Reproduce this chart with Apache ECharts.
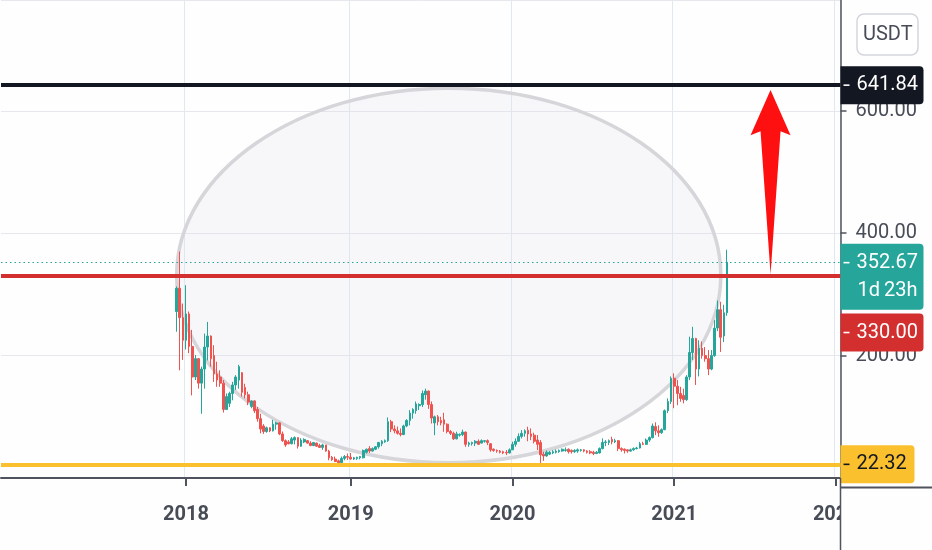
<!DOCTYPE html>
<html>
<head>
<meta charset="utf-8">
<script src="https://cdn.jsdelivr.net/npm/echarts@6/dist/echarts.min.js"></script>
<style>
html,body{margin:0;padding:0;background:#fefefe;}
#chart{width:932px;height:550px;}
</style>
</head>
<body>
<div id="chart"></div>
<script>
// ---------- data ----------
const firstWeek = '2017-12-11';        // first weekly candle
const weeksBefore = 56;                // empty weeks shown left of the first candle
const weeksAfter = 36;                 // empty future weeks right of the last candle
const yearLabels = ['2018', '2019', '2020', '2021', '2022'];

const opens = [
  272,310,262,225,268,215,165,195,155,178,
  214,232,200,170,165,155,112,122,138,152,
  160,172,148,136,117,126,112,97,85,76,
  82,77,88,90,72,61,59,56,62,66,
  52,59,61,57,53,57,53,50,54,44,
  34,31,28,25,32,35,34,31,32,33,
  33,42,48,44,47,51,56,59,61,92,
  80,77,73,71,85,94,106,110,118,120,
  136,142,120,90,100,94,95,88,76,73,
  64,70,71,75,55,56,57,60,57,60,
  61,56,47,45,44,43,42,41,46,55,
  60,68,73,78,72,70,62,58,39,36,
  39,41,42,43,44,45,47,45,43,44,
  45,46,44,43,42,40,41,48,58,58,
  63,59,61,48,47,46,44,46,48,49,
  56,55,62,66,84,77,74,79,110,125,
  163,150,138,135,128,165,205,228,178,212,
  200,195,178,200,245,275,232,270
];
const closes = [
  310,262,225,268,215,165,195,155,178,214,
  232,195,170,160,155,112,133,138,152,165,
  182,140,136,124,126,110,97,80,76,82,
  77,88,90,72,61,54,56,64,66,52,
  62,63,57,53,58,52,50,54,44,33,
  30,27,25,32,35,34,31,33,34,35,
  45,47,44,48,51,58,60,61,92,80,
  77,73,71,85,94,106,112,121,120,138,
  142,120,98,100,92,90,88,76,73,64,
  72,71,75,55,57,58,60,55,61,61,
  58,46,45,44,42,41,41,46,55,60,
  68,73,77,72,68,60,55,38,36,42,
  42,43,44,45,47,46,43,43,45,46,
  46,44,42,41,40,42,48,58,59,61,
  59,61,48,46,45,44,46,48,49,56,
  55,62,66,85,77,74,79,110,125,163,
  150,138,130,128,165,205,228,178,212,200,
  195,178,200,245,275,230,270,352.67
];
const lows = [
  239,176,193,210,204,135,160,146,105,146,
  192,182,157,149,149,107,111,116,127,144,
  146,133,130,119,114,106,92,73,72,74,
  75,76,79,70,59,51,55,55,55,48,
  51,57,56,52,52,51,49,46,43,29,
  28,26,22.4,24.5,29,29.5,30,29.5,29.5,30.5,
  32,40,41,43,45.5,48,52,57.5,59,75,
  73,71,68,70,83,86,97,105,111,116,
  128,113,89,70,86,86,75.5,72.9,70.2,62,
  63,67.5,68.4,51,51.1,53,52.2,53.8,56.5,57.6,
  53.8,42.9,42.9,41.2,40.1,39,37.5,40.1,45.7,51.1,
  59.3,64.7,67.5,60,62,56.5,45.7,23.6,28,34.7,
  37.4,39,40,41.2,42.9,42.9,40,40,41,41.2,
  43,42,40,39,37.4,39,40,46.7,52,53.8,
  55,57,44,42.9,40.1,41.2,42.9,44.5,46.7,48.3,
  53.7,54,59,64.6,70,67.4,72,78,106,121,
  114,119,124.6,122,126,160,193,152,166,195,
  190,168,176,198,240,206,222,265
];
const highs = [
  313,370,285,315,272,242,201,196,182,236,
  255,233,217,190,176,160,138,141,157,168,
  185,173,154,141,127,127,116,105,88,84,
  83,95,92,91,76,63,62,67,68,66,
  65,65,62,60,59,58,56,56,54,46,
  36,35,30,35,37.5,40,41,34.5,34.7,36,
  46.5,48,52,50,52,59,62,63,99,95,
  86,84,81,87,96,111,114,125,122,143,
  146,143,125,102,103,100,106.6,89.2,78.3,75.6,
  75.6,73,79,76,59.3,59.3,62,63.1,63.1,62,
  63,57,48.4,46.7,45.7,44.6,45.7,48.4,59.3,64.7,
  72.9,78.3,79.4,83.8,81.1,74,70.2,62,43,45,
  44,45.6,46.7,46.7,48.3,50,48.3,46.7,47,48.3,
  47.5,47,45.5,45.6,44.5,44,50,64.7,62,63,
  67.4,64,62,50,48.3,46.7,48,50,51,59,
  59.2,64.6,68,89,91,86,81,112,130,166,
  171,160,149,146,168,231,247,229,225,223,
  214,209,209,258,290,288,283,373
];

// horizontal levels drawn on the chart
const resistance = 641.84;
const breakout = 330.00;
const support = 22.32;
const lastPrice = 352.67;
const countdown = '1d 23h';
const quoteAsset = 'USDT';

// annotations (in data units)
const ellipseFromWeek = '2017-12-11';
const ellipseToWeek = '2021-04-19';
const ellipseLow = 25;
const ellipseHigh = 637;
const arrowWeek = '2021-08-09';
const arrowFrom = 333;
const arrowHeadBase = 560;
const arrowTo = 634;

// ---------- helpers ----------
function addWeeks(iso, n) {
  const d = new Date(iso + 'T00:00:00Z');
  d.setUTCDate(d.getUTCDate() + 7 * n);
  return d.toISOString().slice(0, 10);
}
const FONT = 'Roboto';
const FS = 20;
const XFS = 20;

const categories = [];
for (let k = -weeksBefore; k < opens.length + weeksAfter; k++) categories.push(addWeeks(firstWeek, k));
const candles = opens.map((o, i) => [addWeeks(firstWeek, i), o, closes[i], lows[i], highs[i]]);

function isYearStart(index, value) {
  if (index === 0) return false;
  const y = value.slice(0, 4);
  return y !== categories[index - 1].slice(0, 4) && yearLabels.indexOf(y) >= 0;
}

const AXIS = '#4f535d';
const TXT = '#484c57';

function box(bg, fg, w, extra) {
  return Object.assign({
    show: true, position: 'end', distance: 0, align: 'left',
    fontFamily: FONT, fontSize: FS, color: fg, width: w, overflow: 'none',
    backgroundColor: bg, padding: [8, 0, 8, 3], borderRadius: [0, 4, 4, 0],
    lineHeight: 22,
    rich: {
      t: {width: 6, height: 1.6, backgroundColor: fg, verticalAlign: 'middle'},
      g: {width: 7, height: 2}
    }
  }, extra || {});
}

const chart = echarts.init(document.getElementById('chart'), null, {renderer: 'canvas'});
chart.setOption({
  animation: false,
  backgroundColor: '#fefefe',
  textStyle: {fontFamily: FONT},
  title: {
    text: quoteAsset, left: 857, top: 14,
    padding: [10, 6], backgroundColor: '#ffffff',
    borderColor: '#d4d6dd', borderWidth: 1.5, borderRadius: 7,
    textStyle: {fontFamily: FONT, fontSize: FS, fontWeight: 'normal', color: TXT, lineHeight: 21}
  },
  grid: {left: 1, right: 91.5, top: 0, bottom: 72, containLabel: false},
  xAxis: {
    type: 'category', data: categories, boundaryGap: true, offset: 9.5,
    axisLine: {show: true, lineStyle: {color: AXIS, width: 2}},
    axisTick: {show: true, interval: isYearStart, alignWithLabel: true, length: 8, lineStyle: {color: AXIS, width: 2}},
    axisLabel: {
      interval: isYearStart, formatter: v => v.slice(0, 4), margin: 17,
      color: TXT, fontFamily: FONT, fontSize: XFS, fontWeight: 'bold'
    },
    splitLine: {show: true, interval: isYearStart, lineStyle: {color: '#e1e9f0', width: 1}}
  },
  yAxis: {
    type: 'value', position: 'right', min: 0, max: 781, interval: 200,
    axisLine: {show: true, lineStyle: {color: AXIS, width: 1.5}},
    axisTick: {show: true, length: 6, lineStyle: {color: AXIS, width: 1.5}},
    axisLabel: {
      formatter: v => v.toFixed(2), margin: 15, showMaxLabel: false,
      color: TXT, fontFamily: FONT, fontSize: FS
    },
    splitLine: {show: true, lineStyle: {color: '#e6e8ee', width: 1}}
  },
  series: [{
    type: 'candlestick', name: 'weekly',
    data: candles, encode: {x: 0, y: [1, 2, 3, 4]},
    barWidth: 2.2,
    itemStyle: {color: '#26a69a', color0: '#ef5350', borderColor: '#26a69a', borderColor0: '#ef5350', borderWidth: 1},
    markLine: {
      silent: true, symbol: ['none', 'none'], animation: false,
      data: [
        {yAxis: resistance, lineStyle: {color: '#131722', width: 4, type: 'solid'},
          label: box('#131722', '#ffffff', 80, {formatter: () => '{t|}{g|}' + resistance.toFixed(2)})},
        {yAxis: breakout, lineStyle: {color: '#d32f2f', width: 4, type: 'solid'},
          label: box('#d32f2f', '#ffffff', 80, {formatter: () => '{t|}{g|}' + breakout.toFixed(2), offset: [0, 56.5]})},
        {yAxis: lastPrice, lineStyle: {color: '#26a69a', width: 1.2, type: [1.5, 3]},
          label: box('#26a69a', '#ffffff', 80, {formatter: () => '{t|}{g|}' + lastPrice.toFixed(2) + '\n{g|}{g|}' + countdown.replace(' ', '\u2009'),
            verticalAlign: 'top', offset: [0, -18.5], lineHeight: 28, padding: [5, 0, 5, 3]})},
        {yAxis: support, lineStyle: {color: '#fbc02d', width: 4, type: 'solid'},
          label: box('#fbc02d', '#131722', 71, {formatter: () => '{t|}{g|}' + support.toFixed(2)})}
      ]
    }
  }]
});

// annotations converted through the chart's own scales
const finder = {seriesIndex: 0};
const e1 = chart.convertToPixel(finder, [ellipseFromWeek, ellipseHigh]);
const e2 = chart.convertToPixel(finder, [ellipseToWeek, ellipseLow]);
const aTip = chart.convertToPixel(finder, [arrowWeek, arrowTo]);
const aBase = chart.convertToPixel(finder, [arrowWeek, arrowFrom]);
const aHead = chart.convertToPixel(finder, [arrowWeek, arrowHeadBase]);
const ax = aTip[0];
const gridRight = 932 - 91.5;
const axisY = 550 - 72 + 9.5;

chart.setOption({
  graphic: [
    {type: 'ellipse', z: 1, silent: true,
      shape: {cx: (e1[0] + e2[0]) / 2, cy: (e1[1] + e2[1]) / 2, rx: Math.abs(e2[0] - e1[0]) / 2, ry: Math.abs(e2[1] - e1[1]) / 2},
      style: {fill: 'rgba(222,222,230,0.2)', stroke: '#d6d6da', lineWidth: 3.5}},
    {type: 'polygon', z: 50, silent: true,
      shape: {points: [
        [ax, aTip[1]], [ax + 20, aHead[1]], [ax + 10, aHead[1] - 4],
        [ax, aBase[1]], [ax - 10, aHead[1] - 4], [ax - 20, aHead[1]]
      ]},
      style: {fill: '#ff1010'}},
    {type: 'rect', z: 100, silent: true,
      shape: {x: gridRight + 0.5, y: axisY + 1.5, width: 932 - gridRight, height: 550 - axisY},
      style: {fill: '#fefefe'}},
    {type: 'line', z: 101, silent: true,
      shape: {x1: gridRight, y1: axisY, x2: 932, y2: axisY},
      style: {stroke: AXIS, lineWidth: 2}},
    {type: 'line', z: 101, silent: true,
      shape: {x1: gridRight, y1: 478, x2: gridRight, y2: 550},
      style: {stroke: AXIS, lineWidth: 1.5}}
  ]
});
</script>
</body>
</html>
